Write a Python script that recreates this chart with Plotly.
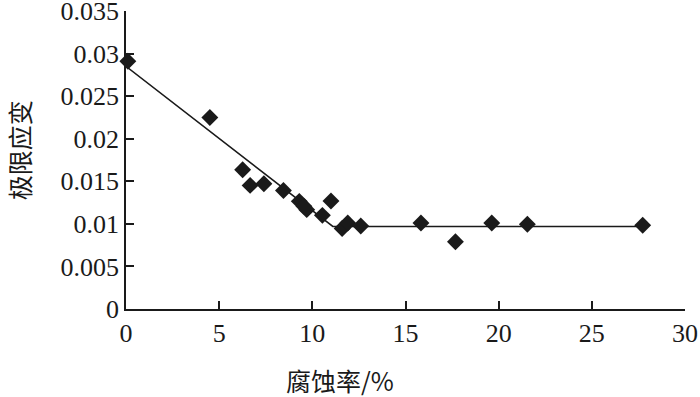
import plotly.graph_objects as go

# Measured data: corrosion rate (%) vs ultimate strain
corrosion_rate = [0.1, 4.5, 6.26, 6.66, 7.4, 8.45, 9.3, 9.55, 9.7, 10.54, 11.0, 11.6, 11.9, 12.6,
                  15.83, 17.68, 19.63, 21.54, 27.73]
ultimate_strain = [0.0291, 0.0225, 0.01636, 0.01452, 0.01472, 0.01393, 0.01265, 0.01206, 0.01167,
                   0.0110, 0.01268, 0.00945, 0.0101, 0.00975, 0.0101, 0.0079, 0.0101, 0.00995, 0.00984]

# Piecewise fitted line
fit_x = [0, 11.1, 27.73]
fit_y = [0.0285, 0.0097, 0.0097]

x_tickvals = [0, 5, 10, 15, 20, 25, 30]
x_ticktext = ["0", "5", "10", "15", "20", "25", "30"]
y_tickvals = [0, 0.005, 0.01, 0.015, 0.02, 0.025, 0.03, 0.035]
y_ticktext = ["0", "0.005", "0.01", "0.015", "0.02", "0.025", "0.03", "0.035"]
x_title = "腐蚀率/%"
y_title = "极限应变"

FONT = "Liberation Serif, Times New Roman, serif"
CJK = "Noto Sans CJK SC, Liberation Serif, sans-serif"

fig = go.Figure()
fig.add_trace(go.Scatter(x=fit_x, y=fit_y, mode="lines",
                         line=dict(color="#1a1a1a", width=1.5), showlegend=False,
                         cliponaxis=False))
fig.add_trace(go.Scatter(x=corrosion_rate, y=ultimate_strain, mode="markers",
                         marker=dict(symbol="diamond", size=13, color="#1a1a1a"),
                         showlegend=False, cliponaxis=False))

fig.update_layout(
    width=700, height=397,
    margin=dict(l=126, r=15, t=11, b=88, autoexpand=False),
    paper_bgcolor="white", plot_bgcolor="white",
    font=dict(family=FONT, size=26, color="#1a1a1a"),
    xaxis=dict(range=[0, 30.0001], tickvals=x_tickvals, ticktext=x_ticktext,
               showline=True, linecolor="#1a1a1a", linewidth=1.5,
               ticks="inside", ticklen=8, tickwidth=1.5, tickcolor="#1a1a1a",
               showgrid=False, zeroline=False, automargin=False,
               ticklabeloverflow="allow",
               tickfont=dict(family=FONT, size=26)),
    yaxis=dict(range=[0, 0.03501], tickvals=y_tickvals, ticktext=y_ticktext,
               showline=True, linecolor="#1a1a1a", linewidth=1.5,
               ticks="inside", ticklen=8, tickwidth=1.5, tickcolor="#1a1a1a",
               showgrid=False, zeroline=False, automargin=False,
               ticklabeloverflow="allow",
               tickfont=dict(family=FONT, size=26)),
    annotations=[
        dict(text=x_title, xref="paper", yref="paper", x=0.383, y=-0.238,
             xanchor="center", yanchor="middle", showarrow=False,
             font=dict(size=25, family=CJK, color="#1a1a1a")),
        dict(text=y_title, xref="paper", yref="paper", x=-0.19, y=0.532,
             xanchor="center", yanchor="middle", showarrow=False, textangle=-90,
             font=dict(size=25, family=CJK, color="#1a1a1a")),
    ],
)

fig.write_html("out.html", config={"displayModeBar": False},
               post_script="document.body.style.margin='0';document.body.style.overflow='hidden';")
